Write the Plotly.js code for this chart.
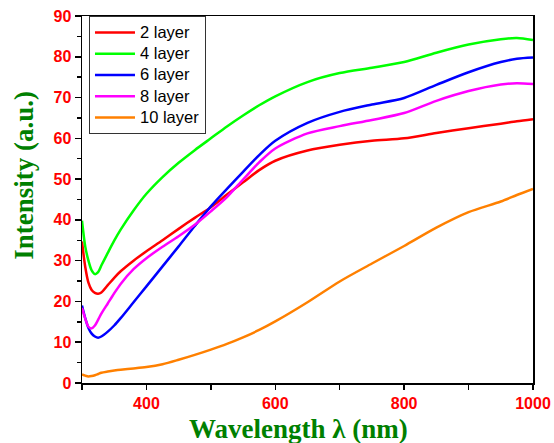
<!DOCTYPE html>
<html>
<head>
<meta charset="utf-8">
<script src="https://cdn.plot.ly/plotly-3.0.1.min.js"></script>
<style>
  html, body { margin: 0; padding: 0; background: #fff; }
  #chart { width: 554px; height: 443px; }
</style>
</head>
<body>
<div id="chart"></div>
<script>
// Wavelength grid (nm) shared by all spectra
const wavelength = [300, 305, 310, 315, 320, 325, 330, 340, 350, 360, 380, 400, 425, 450, 475, 500, 525, 550, 575, 600, 650, 700, 750, 800, 850, 900, 950, 975, 1000];

// Intensity (a.u.) for each layer count
const layer2  = [34.7, 28.5, 24.6, 22.8, 22.1, 21.9, 22.2, 24.0, 25.8, 27.4, 30.0, 32.3, 35.0, 37.8, 40.5, 43.1, 46.2, 49.2, 52.2, 54.5, 57.0, 58.4, 59.4, 60.0, 61.3, 62.5, 63.6, 64.2, 64.7];
const layer4  = [39.8, 33.5, 30.0, 27.6, 26.7, 27.2, 28.8, 31.9, 34.9, 37.6, 42.3, 46.4, 50.5, 54.0, 57.1, 60.0, 62.9, 65.6, 68.1, 70.3, 73.8, 76.0, 77.3, 78.7, 81.0, 83.0, 84.3, 84.6, 84.1];
const layer6  = [19.0, 15.9, 13.5, 12.1, 11.4, 11.1, 11.4, 12.6, 14.1, 15.9, 19.8, 23.7, 28.6, 33.5, 38.5, 43.3, 47.6, 51.8, 55.9, 59.4, 63.8, 66.5, 68.3, 69.9, 73.1, 76.2, 78.7, 79.5, 79.8];
const layer8  = [18.4, 15.8, 13.8, 13.4, 14.1, 15.5, 17.0, 19.5, 22.0, 24.3, 27.9, 30.6, 33.4, 36.0, 38.8, 42.1, 45.6, 49.9, 54.1, 57.5, 61.2, 63.0, 64.5, 66.2, 69.2, 71.6, 73.2, 73.5, 73.3];
const layer10 = [2.1, 1.8, 1.6, 1.7, 1.9, 2.2, 2.5, 2.8, 3.05, 3.25, 3.55, 3.9, 4.6, 5.7, 6.9, 8.2, 9.6, 11.2, 13.0, 15.1, 19.8, 24.9, 29.3, 33.6, 38.1, 41.9, 44.5, 46.1, 47.6];

const seriesNames = ['2 layer', '4 layer', '6 layer', '8 layer', '10 layer'];
const seriesColors = ['#ff0000', '#00ff00', '#0000ff', '#ff00ff', '#ff8000'];
const seriesValues = [layer2, layer4, layer6, layer8, layer10];

const traces = seriesValues.map((vals, i) => ({
  type: 'scatter',
  mode: 'lines',
  // legend rows stay compact while the label text is drawn a little larger
  name: '<span style="font-size:16.5px">' + seriesNames[i] + '</span>',
  x: wavelength,
  y: vals,
  line: { color: seriesColors[i], width: 2.5, shape: 'spline', smoothing: 0.8 }
}));

const tickFont = { family: 'Liberation Sans, Arial, sans-serif', size: 16, color: '#ff0000', weight: 'bold' };
const titleFont = { family: 'Liberation Serif, Times New Roman, serif', size: 27, color: '#008000', weight: 'bold' };

const layout = {
  width: 554,
  height: 443,
  margin: { l: 82, r: 21, t: 16, b: 60 },
  paper_bgcolor: '#ffffff',
  plot_bgcolor: '#ffffff',
  showlegend: true,
  xaxis: {
    range: [300, 1000],
    showgrid: false,
    zeroline: false,
    showline: true,
    linecolor: '#000',
    linewidth: 1.5,
    mirror: true,
    ticks: 'outside',
    ticklen: 5,
    tickwidth: 1.5,
    tickcolor: '#000',
    tick0: 0,
    dtick: 200,
    minor: { dtick: 100, ticks: 'outside', ticklen: 5, tickwidth: 1.5, tickcolor: '#000' },
    tickfont: tickFont
  },
  yaxis: {
    range: [0, 90],
    showgrid: false,
    zeroline: false,
    showline: true,
    linecolor: '#000',
    linewidth: 1.5,
    mirror: true,
    ticks: 'outside',
    ticklen: 6,
    tickwidth: 1.5,
    tickcolor: '#000',
    tick0: 0,
    dtick: 10,
    minor: { dtick: 5, ticks: 'outside', ticklen: 4, tickwidth: 1.5, tickcolor: '#000' },
    tickfont: tickFont
  },
  legend: {
    x: 0.0155,
    y: 1,
    xanchor: 'left',
    yanchor: 'top',
    bgcolor: '#ffffff',
    bordercolor: '#333333',
    borderwidth: 1,
    itemwidth: 40,
    font: { family: 'Liberation Sans, Arial, sans-serif', size: 14, color: '#000' }
  },
  annotations: [
    {
      text: 'Wavelength λ (nm)',
      xref: 'paper', yref: 'paper',
      x: 0.481, y: -0.124,
      xanchor: 'center', yanchor: 'middle',
      showarrow: false,
      font: titleFont
    },
    {
      text: 'Intensity (a.u.)',
      xref: 'paper', yref: 'paper',
      x: -0.129, y: 0.567,
      xanchor: 'center', yanchor: 'middle',
      textangle: -90,
      showarrow: false,
      font: titleFont
    }
  ]
};

Plotly.newPlot('chart', traces, layout, { displayModeBar: false, staticPlot: true });
</script>
</body>
</html>
